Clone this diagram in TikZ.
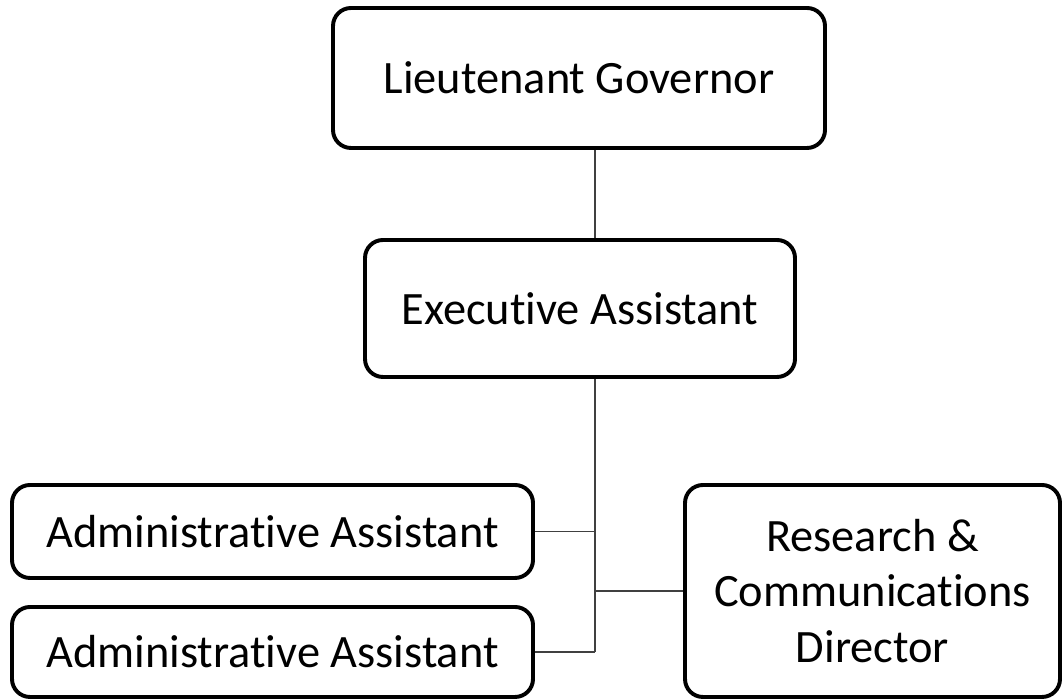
\documentclass[tikz,border=0pt]{standalone}
\usepackage{fontspec}
\setmainfont{Carlito}[Ligatures={NoCommon}]
\tikzset{
    post/.style={draw,line width=2.8pt,rounded corners=0.45cm,align=center,
        inner sep=0pt,font=\fontsize{33}{39.5}\selectfont},
    link/.style={line width=1.1pt,black!75}
}
\begin{document}
\begin{tikzpicture}
        \useasboundingbox (0,0) rectangle (26.55,17.5);
        %% boxes
        \node[post,minimum width=12.3cm,minimum height=3.5cm] (gov) at (14.475,15.55) {Lieutenant Governor};
        \node[post,minimum width=10.75cm,minimum height=3.425cm] (exec) at (14.5,9.7875) {Executive Assistant};
        \node[post,minimum width=13.025cm,minimum height=2.325cm] (admA) at (6.8125,4.2125) {Administrative Assistant};
        \node[post,minimum width=13.025cm,minimum height=2.25cm] (admB) at (6.8125,1.2) {Administrative Assistant};
        \node[post,minimum width=9.375cm,minimum height=5.3cm] (rcd) at (21.8125,2.725) {Research \&\\Communications\\Director};
        %% spine
        \coordinate (spine) at (14.875,0);
        \draw[link] (gov.south -| spine) -- (exec.north -| spine);
        \draw[link] (exec.south -| spine) -- (admB.east -| spine);
        \foreach \n in {admA,admB,rcd}
            \draw[link] (\n) -- (\n -| spine);
    \end{tikzpicture}
\end{document}
